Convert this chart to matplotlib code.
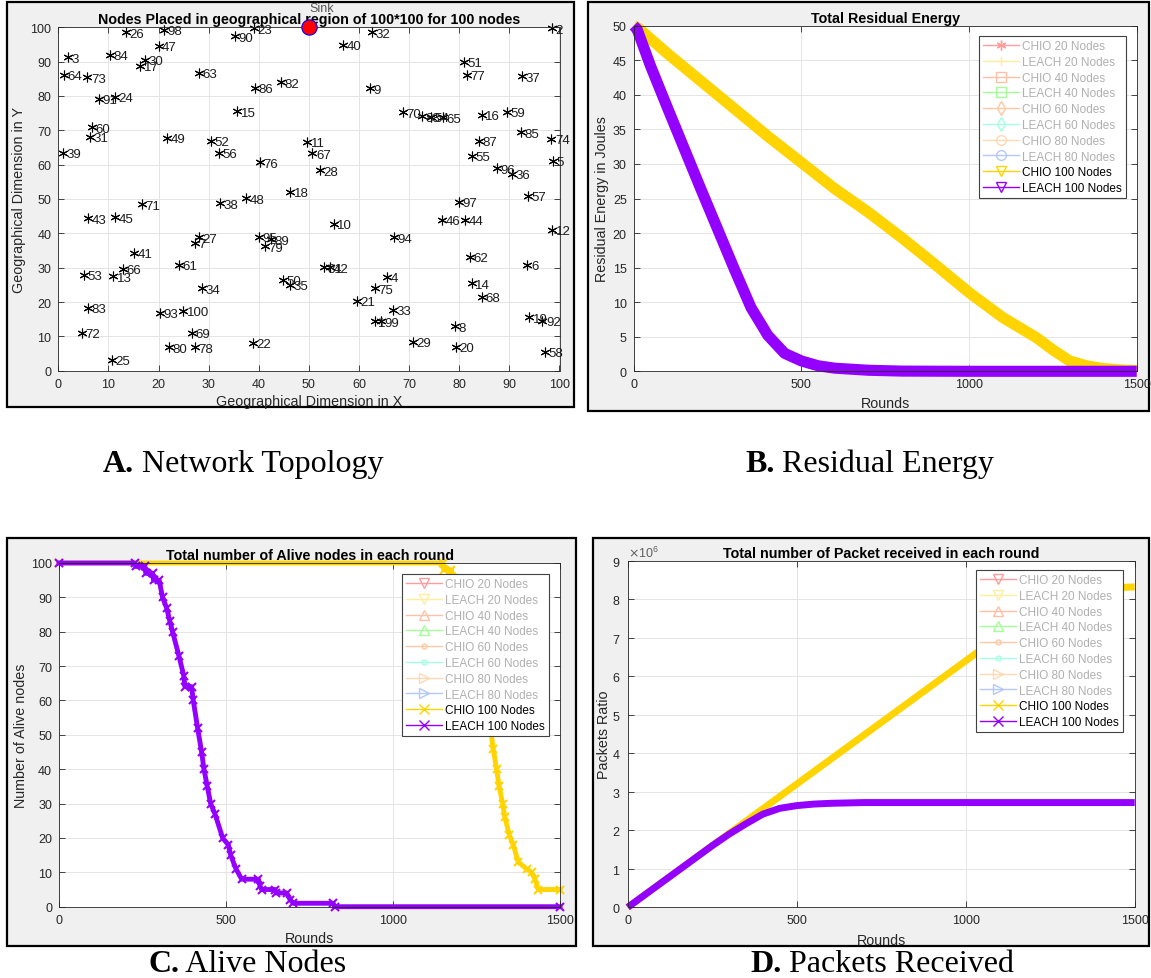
import matplotlib
matplotlib.use('Agg')
import matplotlib.pyplot as plt
import numpy as np
from matplotlib.lines import Line2D
from matplotlib.patches import Rectangle

W, H = 1151, 979

# node placement (A)
node_ids = list(range(1, 101))
node_x = [63.1, 98.5, 2.0, 65.6, 98.7, 93.6, 27.3, 79.2, 62.1, 55.0,
          49.7, 98.5, 11.0, 82.5, 35.7, 84.5, 16.3, 46.3, 94.0, 79.3,
          59.6, 38.9, 39.0, 11.3, 10.7, 13.5, 28.0, 52.2, 70.7, 17.2,
          6.3, 62.6, 66.8, 28.7, 46.2, 90.6, 92.6, 32.3, 1.0, 56.8,
          15.2, 54.3, 6.0, 81.1, 11.3, 76.5, 20.0, 37.5, 21.7, 44.9,
          81.0, 30.5, 5.1, 74.3, 82.5, 32.0, 93.7, 97.1, 89.6, 6.7,
          24.0, 82.1, 28.0, 1.1, 76.7, 12.9, 50.7, 84.6, 26.7, 68.7,
          16.7, 4.7, 5.8, 98.4, 63.1, 40.3, 81.5, 27.2, 41.3, 22.0,
          53.0, 44.5, 6.0, 10.3, 92.3, 39.3, 84.0, 72.6, 42.5, 35.3,
          8.2, 96.6, 20.3, 67.0, 40.0, 87.6, 80.0, 21.0, 64.4, 24.9]
node_y = [14.4, 99.7, 91.3, 27.4, 61.2, 30.8, 37.3, 12.9, 82.2, 42.7,
          66.7, 41.0, 27.5, 25.4, 75.5, 74.6, 88.8, 52.1, 15.5, 7.0,
          20.4, 8.1, 99.7, 79.8, 3.2, 98.5, 38.8, 58.3, 8.4, 90.6,
          68.2, 98.5, 17.8, 24.0, 25.0, 57.3, 85.7, 48.8, 63.4, 94.9,
          34.3, 30.1, 44.4, 43.9, 44.7, 43.9, 94.7, 50.2, 67.8, 26.4,
          90.0, 67.0, 28.0, 74.0, 62.6, 63.4, 50.9, 5.5, 75.4, 70.9,
          30.8, 33.2, 86.7, 86.2, 73.8, 29.6, 63.3, 21.6, 11.0, 75.2,
          48.5, 11.0, 85.4, 67.5, 24.0, 60.7, 86.1, 6.8, 36.2, 6.8,
          30.1, 84.0, 18.3, 92.0, 69.4, 82.3, 67.0, 74.1, 38.3, 97.4,
          79.1, 14.6, 16.8, 38.8, 39.0, 58.9, 49.2, 99.2, 14.4, 17.5]
sink_x, sink_y = 50, 100

# residual energy (B)
energy_rounds_chio = [0, 15, 100, 200, 300, 400, 500, 600, 700, 800, 900,
                      1000, 1100, 1200, 1250, 1300, 1350, 1400, 1450, 1500]
energy_chio = [50, 49.6, 46, 42, 38, 34, 30.2, 26.4, 23, 19.3, 15.4,
               11.4, 7.8, 4.9, 3.1, 1.5, 0.8, 0.4, 0.2, 0.1]
energy_rounds_leach = [0, 10, 50, 100, 150, 200, 250, 300, 350, 400, 450,
                       500, 550, 600, 700, 800, 1000, 1500]
energy_leach = [50, 49.5, 44.2, 38.2, 32.3, 26.4, 20.6, 14.8, 9.2, 5.2, 2.6,
                1.5, 0.8, 0.45, 0.15, 0.03, 0, 0]

# alive nodes (C)
alive_rounds_chio = [0, 1150, 1152, 1175, 1178, 1200, 1230, 1260, 1285, 1293,
                     1300, 1310, 1318, 1328, 1335, 1348, 1360, 1375, 1400,
                     1415, 1425, 1435, 1500]
alive_chio = [100, 100, 98, 98, 96, 92, 84, 70, 56, 51,
              46, 40, 35, 30, 26, 21, 18, 13, 11,
              10, 8, 5, 5]
alive_rounds_leach = [0, 227, 230, 257, 260, 280, 283, 300, 310, 322, 332,
                      340, 359, 374, 377, 397, 402, 415, 427, 434, 444, 454,
                      467, 490, 507, 514, 530, 547, 597, 602, 607, 647, 650,
                      682, 692, 702, 821, 825, 1500]
alive_leach = [100, 100, 99, 99, 97, 97, 95, 95, 90, 87, 83,
               80, 73, 67, 64, 64, 60, 52, 45, 40, 35, 30,
               27, 20, 18, 15, 11, 8, 8, 6, 5, 5, 4,
               4, 2, 1, 1, 0, 0]

# packets received, millions (D)
packets_rounds_chio = [0, 100, 200, 300, 400, 500, 600, 700, 800, 900, 1000,
                       1100, 1150, 1200, 1250, 1300, 1350, 1400, 1450, 1500]
packets_chio = [0, 0.64, 1.28, 1.92, 2.56, 3.2, 3.84, 4.48, 5.12, 5.76, 6.4,
                7.04, 7.36, 7.66, 7.93, 8.12, 8.22, 8.27, 8.3, 8.32]
packets_rounds_leach = [0, 100, 200, 250, 300, 350, 400, 450, 500, 550, 600,
                        700, 800, 1500]
packets_leach = [0, 0.64, 1.28, 1.6, 1.9, 2.17, 2.42, 2.57, 2.64, 2.68, 2.70,
                 2.72, 2.72, 2.72]

legend_labels = ['CHIO 20 Nodes', 'LEACH 20 Nodes', 'CHIO 40 Nodes',
                 'LEACH 40 Nodes', 'CHIO 60 Nodes', 'LEACH 60 Nodes',
                 'CHIO 80 Nodes', 'LEACH 80 Nodes', 'CHIO 100 Nodes',
                 'LEACH 100 Nodes']

YELLOW = '#ffd400'
PURPLE = '#9400ff'
faded_colors = ['#ff9c9c', '#ffee9e', '#ffbfa8', '#a4ff98',
                '#ffc9a6', '#a6ffe2', '#ffd9b3', '#b4c8ff']
ASTERISK = (6, 2, 0)

plt.rcParams['font.family'] = ['Liberation Sans', 'DejaVu Sans']

fig = plt.figure(figsize=(W / 100, H / 100), dpi=100)
fig.patch.set_facecolor('white')


def fig_rect(x0, y0, x1, y1):
    return [x0 / W, 1 - y1 / H, (x1 - x0) / W, (y1 - y0) / H]


# gray window backgrounds
for box in [(7, 3, 574, 408), (588, 3, 1149, 412),
            (7, 539, 576, 947), (593, 539, 1149, 947)]:
    x0, y0, w, h = fig_rect(*box)
    fig.patches.append(Rectangle((x0, y0), w, h, transform=fig.transFigure,
                                 facecolor='#f0f0f0', edgecolor='black',
                                 linewidth=1.6, zorder=-1))


def matlab_axes(rect, title, xlabel, ylabel, xlab_y, ylab_x):
    ax = fig.add_axes(fig_rect(*rect))
    ax.set_facecolor('white')
    ax.grid(True, color='#e4e4e4', linewidth=0.7)
    ax.set_axisbelow(True)
    ax.tick_params(direction='in', length=4, width=0.6, colors='#262626',
                   labelsize=9, top=True, right=True, pad=5)
    for s in ax.spines.values():
        s.set_color('#262626')
        s.set_linewidth(0.6)
    ax.set_title(title, fontsize=10.3, fontweight='bold', pad=3)
    ax.set_xlabel(xlabel, fontsize=10.3, color='#262626')
    ax.set_ylabel(ylabel, fontsize=10.3, color='#262626')
    x0, y0, x1, y1 = rect
    ax.xaxis.set_label_coords(0.5, 1 - (xlab_y - 8 - y0) / (y1 - y0))
    ax.yaxis.set_label_coords((ylab_x + 8 - x0) / (x1 - x0), 0.5)
    return ax


def add_legend(ax, markers, right, top):
    handles = []
    text_colors = []
    for i, lab in enumerate(legend_labels):
        if i < 8:
            c = faded_colors[i]
            text_colors.append('#b0b0b0')
        else:
            c = YELLOW if i == 8 else PURPLE
            text_colors.append('black')
        handles.append(Line2D([], [], color=c, marker=markers[i], ms=7,
                              mfc='none', mew=1, lw=1))
    leg = ax.legend(handles, legend_labels, loc='upper right',
                    bbox_to_anchor=(right / W, 1 - top / H),
                    bbox_transform=fig.transFigure, fontsize=8.5,
                    fancybox=False, edgecolor='#404040', framealpha=1,
                    borderaxespad=0, handlelength=3.0, handletextpad=0.3,
                    labelspacing=0.32, borderpad=0.35)
    leg.get_frame().set_linewidth(0.8)
    for t, c in zip(leg.get_texts(), text_colors):
        t.set_color(c)


# A: network topology
axA = matlab_axes((58.3, 28.3, 559.5, 371.7),
                  'Nodes Placed in geographical region of 100*100 for 100 nodes',
                  'Geographical Dimension in X', 'Geographical Dimension in Y',
                  403, 18)
axA.set_xlim(0, 100)
axA.set_ylim(0, 100)
axA.set_xticks(np.arange(0, 101, 10))
axA.set_yticks(np.arange(0, 101, 10))
axA.plot(node_x, node_y, linestyle='none', marker=ASTERISK, color='black',
         ms=7, mew=0.8, clip_on=False)
for n, x, y in zip(node_ids, node_x, node_y):
    axA.annotate(str(n), (x, y), xytext=(2.5, -1), textcoords='offset points',
                 fontsize=9.5, va='center', ha='left', color='#1a1a1a')
axA.plot(sink_x, sink_y, 'o', ms=11, mfc='red', mec='blue', mew=0.8,
         clip_on=False, zorder=5)
axA.text(sink_x + 0.2, sink_y + 5.6, 'Sink', fontsize=9, color='#555555',
         va='center', ha='left')

# B: residual energy
axB = matlab_axes((633.7, 26.7, 1136.7, 372.3), 'Total Residual Energy',
                  'Rounds', 'Residual Energy in Joules', 405, 601)
axB.set_xlim(0, 1500)
axB.set_ylim(0, 50)
axB.set_xticks([0, 500, 1000, 1500])
axB.set_yticks(np.arange(0, 51, 5))
axB.plot(energy_rounds_chio, energy_chio, color=YELLOW, lw=8,
         clip_on=False, solid_capstyle='butt')
axB.plot(energy_rounds_leach, energy_leach, color=PURPLE, lw=8,
         clip_on=False, solid_capstyle='butt')
add_legend(axB, [ASTERISK, '+', 's', 's', 'd', 'd', 'o', 'o', 'v', 'v'],
           1126, 37)

# C: alive nodes
axC = matlab_axes((59, 564, 560, 907.7),
                  'Total number of Alive nodes in each round',
                  'Rounds', 'Number of Alive nodes', 940, 20)
axC.set_xlim(0, 1500)
axC.set_ylim(0, 100)
axC.set_xticks([0, 500, 1000, 1500])
axC.set_yticks(np.arange(0, 101, 10))
axC.plot(alive_rounds_chio, alive_chio, color=YELLOW, lw=3.5, marker='x',
         ms=6, mew=1.5, clip_on=False)
axC.plot(alive_rounds_leach, alive_leach, color=PURPLE, lw=3.5, marker='x',
         ms=6, mew=1.5, clip_on=False)
add_legend(axC, ['v', 'v', '^', '^', '.', '.', '>', '>', 'x', 'x'], 549, 575)

# D: packets received
axD = matlab_axes((627.7, 561.7, 1134.7, 908.3),
                  'Total number of Packet received in each round',
                  'Rounds', 'Packets Ratio', 942, 603)
axD.set_xlim(0, 1500)
axD.set_ylim(0, 9e6)
axD.set_xticks([0, 500, 1000, 1500])
axD.set_yticks(np.arange(0, 10) * 1e6)
axD.ticklabel_format(axis='y', style='sci', scilimits=(6, 6),
                     useMathText=True)
axD.yaxis.get_offset_text().set_fontsize(9)
axD.yaxis.get_offset_text().set_color('#606060')
axD.plot(packets_rounds_chio, np.array(packets_chio) * 1e6, color=YELLOW,
         lw=5, clip_on=False, solid_capstyle='butt')
axD.plot(packets_rounds_leach, np.array(packets_leach) * 1e6, color=PURPLE,
         lw=5, clip_on=False, solid_capstyle='butt')
add_legend(axD, ['v', 'v', '^', '^', '.', '.', '>', '>', 'x', 'x'], 1123, 571)

# captions under each window
renderer = fig.canvas.get_renderer()
for x0, base, bold, rest in [(103, 472, 'A.', 'Network Topology'),
                             (745, 472, 'B.', 'Residual Energy'),
                             (148, 972, 'C.', 'Alive Nodes'),
                             (750, 972, 'D.', 'Packets Received')]:
    t = fig.text(x0 / W, 1 - base / H, bold, fontsize=23,
                 fontweight='bold', family='Liberation Serif',
                 va='baseline', ha='left')
    bb = t.get_window_extent(renderer)
    fig.text(bb.x1 / W, 1 - base / H, ' ' + rest, fontsize=23,
             family='Liberation Serif', va='baseline', ha='left')

fig.savefig('out.png', dpi=100, facecolor='white')
